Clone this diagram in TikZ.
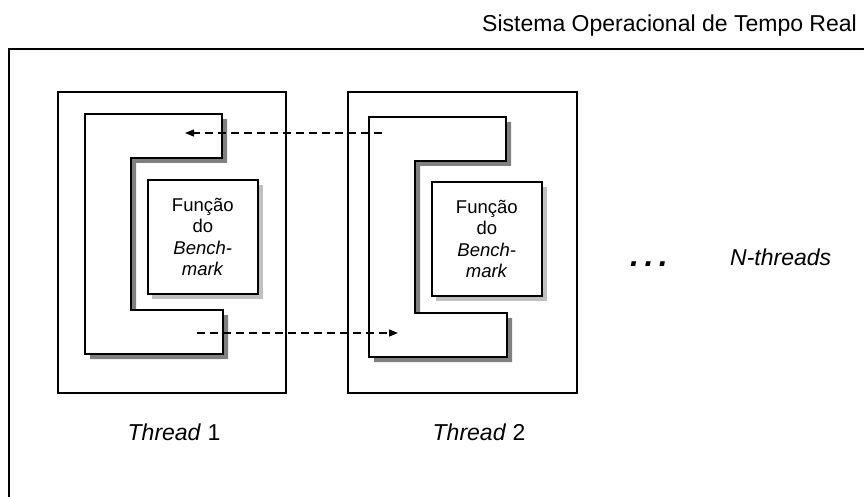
\documentclass[tikz,border=0pt]{standalone}
\usepackage{fontspec}
\setmainfont{Liberation Sans}
\usetikzlibrary{arrows.meta}

\tikzset{
  frame/.style={line width=1.7pt, black},
  threadbox/.style={draw, line width=1.7pt, fill=white, anchor=north west, inner sep=0pt},
  funcbox/.style={draw, line width=1.6pt, fill=white, inner sep=0pt, align=center,
    minimum width=110pt, minimum height=114pt, font=\fontsize{18.5}{21.5}\selectfont},
  cshadow/.style={fill=black!50, draw=none},
  cline/.style={draw, line width=1.7pt, fill=white},
  msg/.style={line width=1.3pt, dash pattern=on 8pt off 5pt, -{Triangle[length=9pt,width=7pt]}},
  label/.style={font=\fontsize{23}{27}\selectfont},
  % C-shaped outline of a thread body, origin at its top-left corner
  cbody/.pic={
    \path[cshadow] (5,5) -- ++(137,0) -- ++(0,44) -- ++(-91,0) -- ++(0,152)
      -- ++(92,0) -- ++(0,44) -- ++(-138,0) -- cycle;
    \path[cline] (0,0) -- (137,0) -- (137,44) -- (46,44) -- (46,196)
      -- (138,196) -- (138,240) -- (0,240) -- cycle;
  }
}

\begin{document}
\begin{tikzpicture}[x=1pt,y=-1pt]
\useasboundingbox (0,0) rectangle (864,497);

% operating system frame and its title
\draw[frame] (9,497) |- (864,49);
\node[label, anchor=base east, inner sep=0pt] (title) at (857,32) {Sistema Operacional de Tempo Real};

% thread containers
\node[threadbox, minimum width=228pt, minimum height=301pt] (t1) at (57,91) {};
\node[threadbox, minimum width=229pt, minimum height=301pt] (t2) at (347,91) {};

% thread bodies
\pic at (85,114) {cbody};
\pic at (369,117) {cbody};

% benchmark functions with their shadows
\fill[black!25] (152,185) rectangle (263,299);
\node[funcbox, anchor=north west] (f1) at (147,179) {Função\\do\\\textit{Bench-}\\\textit{mark}};
\fill[black!25] (436,187) rectangle (547,301);
\node[funcbox, anchor=north west] (f2) at (431,181) {Função\\do\\\textit{Bench-}\\\textit{mark}};

% messages between the threads
\coordinate (m1s) at (382,133);
\coordinate (m1e) at (185,133);
\coordinate (m2s) at (197,333);
\coordinate (m2e) at (398,333);
\draw[msg] (m1s) -- (m1e);
\draw[msg] (m2s) -- (m2e);

% labels
\node[label, anchor=base, inner sep=0pt] (l1) at (174,440) {\textit{Thread} 1};
\node[label, anchor=base, inner sep=0pt] (l2) at (479,440) {\textit{Thread} 2};
\node[font=\fontsize{32}{34}\selectfont, anchor=base, inner sep=0pt] (dots) at (649,266) {\textbf{\textit{.\hspace{5.5pt}.\hspace{5.5pt}.}}};
\node[label, anchor=base west, inner sep=0pt] (n) at (730,265) {\textit{N-threads}};
\end{tikzpicture}
\end{document}
